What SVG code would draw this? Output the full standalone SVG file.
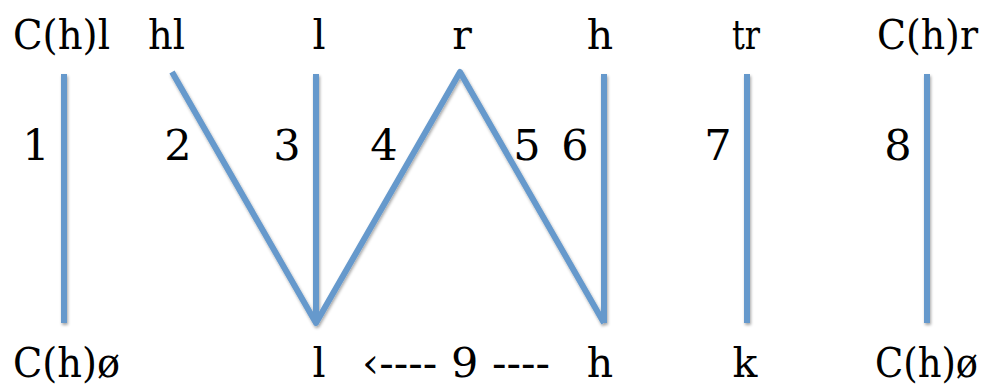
<svg xmlns="http://www.w3.org/2000/svg" width="988" height="387" viewBox="0 0 988 387">
<defs>
<filter id="sh" x="-20%" y="-20%" width="140%" height="140%">
<feDropShadow dx="1" dy="2" stdDeviation="1.5" flood-color="#000" flood-opacity="0.35"/>
</filter>
</defs>
<style>
.t{font-family:'DejaVu Serif',serif;font-size:41px;fill:#000}
.n{font-size:43px}
.m{text-anchor:middle}
.c line,.c polyline{stroke:#6699cc;stroke-width:6;fill:none;stroke-linejoin:round}
</style>
<rect width="988" height="387" fill="#fff"/>
<g id="connectors" class="c" filter="url(#sh)">
<line x1="64" y1="74" x2="64" y2="323"/>
<polyline points="172,72 316,323 460,72 604,323"/>
<line x1="316" y1="74" x2="316" y2="323"/>
<line x1="604" y1="74" x2="604" y2="323"/>
<line x1="747" y1="74" x2="747" y2="323"/>
<line x1="927" y1="74" x2="927" y2="323"/>
</g>
<g id="top-labels" class="t">
<text x="13" y="49" textLength="97" lengthAdjust="spacingAndGlyphs">C(h)l</text>
<text x="148" y="49" textLength="37" lengthAdjust="spacingAndGlyphs">hl</text>
<text class="m" x="319" y="49">l</text>
<text class="m" x="462" y="49">r</text>
<text class="m" x="600" y="49">h</text>
<text x="732" y="49" textLength="28" lengthAdjust="spacingAndGlyphs">tr</text>
<text x="877" y="49" textLength="101" lengthAdjust="spacingAndGlyphs">C(h)r</text>
</g>
<g id="numbers" class="t n">
<text class="m" x="36" y="160">1</text>
<text class="m" x="178" y="160">2</text>
<text class="m" x="287" y="160">3</text>
<text class="m" x="384" y="160">4</text>
<text class="m" x="527" y="160">5</text>
<text class="m" x="575" y="160">6</text>
<text class="m" x="718" y="160">7</text>
<text class="m" x="898" y="160">8</text>
</g>
<g id="bottom-labels" class="t">
<text x="13" y="377" textLength="107" lengthAdjust="spacingAndGlyphs">C(h)ø</text>
<text class="m" x="319" y="377">l</text>
<text x="362" y="377" textLength="188" lengthAdjust="spacingAndGlyphs">‹---- 9 ----</text>
<text class="m" x="600" y="377">h</text>
<text class="m" x="745" y="377">k</text>
<text x="875" y="377" textLength="103" lengthAdjust="spacingAndGlyphs">C(h)ø</text>
</g>
</svg>
